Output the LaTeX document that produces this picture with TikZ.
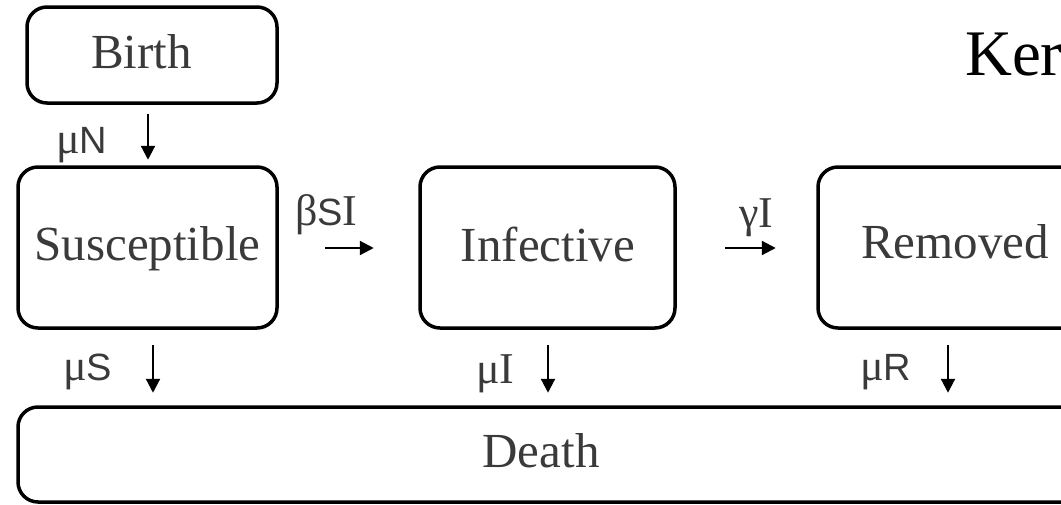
\documentclass[tikz,border=0pt]{standalone}
\usepackage{fontspec}
\setmainfont{Liberation Serif}
\newfontfamily\lsans{Liberation Sans}
\usetikzlibrary{arrows.meta,calc}
\definecolor{txt}{HTML}{3A3A3A}
\newcommand{\sfpart}[1]{{\lsans\fontsize{38}{46}\selectfont #1}}
\tikzset{
  box/.style={draw=black, line width=3.5pt, rounded corners=20pt, inner sep=0pt},
  boxlabel/.style={anchor=base, inner sep=0pt, text=txt, font=\fontsize{49}{58}\selectfont},
  rate/.style={anchor=base west, inner sep=0pt, text=txt, font=\fontsize{44}{52}\selectfont},
  flow/.style={line width=2.2pt, -{Triangle[length=14pt,width=14pt]}},
}
\begin{document}
\begin{tikzpicture}[x=1pt,y=-1pt]
\useasboundingbox (0,0) rectangle (1061,504);
\clip (0,0) rectangle (1061,504);
% boxes
\node[box, minimum width=250pt, minimum height=96pt] (birth) at (152,55) {};
\node[box, minimum width=259pt, minimum height=161pt] (sus) at (147.5,247.5) {};
\node[box, minimum width=255pt, minimum height=161pt] (inf) at (547.5,247.5) {};
\node[box, minimum width=274pt, minimum height=161pt] (rem) at (955,247.5) {};
\node[box, minimum width=1072pt, minimum height=95pt] (death) at (554,454.5) {};
% box labels
\node[boxlabel] (tbirth) at (141.5,68) {Birth};
\node[boxlabel] (tsus) at (147.5,260) {Susceptible};
\node[boxlabel] (tinf) at (548,261) {Infective};
\node[boxlabel] (trem) at (955,258) {Removed};
\node[boxlabel] (tdeath) at (541,467) {Death};
% title fragment
\node[anchor=base west, inner sep=0pt, text=black, font=\fontsize{65}{78}\selectfont] (title) at (965,75) {Ker};
% rate labels
\node[rate] (rN) at (56,153) {μ\sfpart{N}};
\node[rate] (rS) at (63,380) {μ\sfpart{S}};
\node[rate] (rI) at (476,383) {μI};
\node[rate] (rR) at (860,380) {μ\sfpart{R}};
\node[rate] (rB) at (295,225) {β\sfpart{S}I};
\node[rate] (rG) at (739,227) {γI};
% flows
\draw[flow] ($(birth.south)+(-4,9)$) -- ($(birth.south)+(-4,55)$);
\draw[flow] ($(sus.south)+(5.5,15)$) -- ($(sus.south)+(5.5,63)$);
\draw[flow] ($(inf.south)+(0.5,15)$) -- ($(inf.south)+(0.5,63)$);
\draw[flow] ($(rem.south)+(-7,15)$) -- ($(rem.south)+(-7,63)$);
\draw[flow] ($(sus.east)+(46,0.5)$) -- ($(sus.east)+(95,0.5)$);
\draw[flow] ($(inf.east)+(48,0.5)$) -- ($(inf.east)+(99,0.5)$);
\end{tikzpicture}
\end{document}
